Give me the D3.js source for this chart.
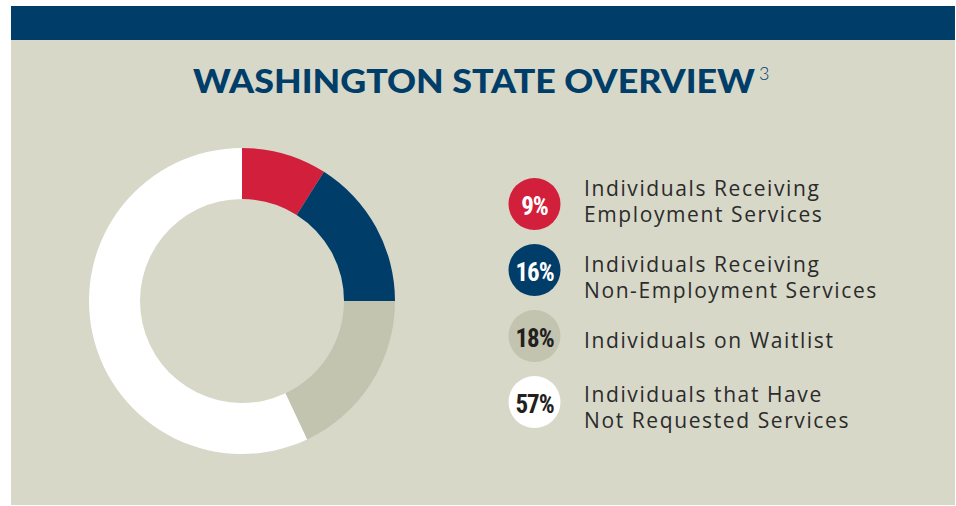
<!DOCTYPE html>
<html>
<head>
<meta charset="utf-8">
<script src="https://cdn.jsdelivr.net/npm/d3@7"></script>
<style>
  html, body { margin: 0; padding: 0; background: #ffffff; }
  svg { display: block; }
</style>
</head>
<body>
<script>
// ---- data ----
const title = "WASHINGTON STATE OVERVIEW";
const titleNote = "3";
const categories = [
  ["Individuals Receiving", "Employment Services"],
  ["Individuals Receiving", "Non-Employment Services"],
  ["Individuals on Waitlist"],
  ["Individuals that Have", "Not Requested Services"]
];
const values = [9, 16, 18, 57];
const colors = ["#d21f3c", "#003d69", "#c2c4af", "#ffffff"];
const labelColors = ["#ffffff", "#ffffff", "#231f20", "#231f20"];

// ---- layout ----
const W = 956, H = 506;
const legendTextY = [196, 272, 348, 402]; // first-line baselines of legend labels
const svg = d3.select("body").append("svg").attr("width", W).attr("height", H);

svg.append("rect").attr("x", 11).attr("y", 6).attr("width", 944).attr("height", 499).attr("fill", "#d7d8c8");
svg.append("rect").attr("x", 11).attr("y", 6).attr("width", 944).attr("height", 34).attr("fill", "#003d69");

const t = svg.append("text")
  .attr("x", 193).attr("y", 93)
  .attr("fill", "#003d69")
  .style("font-family", "Lato, 'Open Sans', sans-serif")
  .style("font-weight", 900)
  .style("font-size", "32px");
t.append("tspan").text(title).attr("textLength", 562).attr("lengthAdjust", "spacingAndGlyphs");
t.append("tspan").text(titleNote).attr("dx", 4).attr("dy", -13)
  .style("font-size", "18px").style("font-weight", 300);

// donut
const cx = 242, cy = 301, rOuter = 153, rInner = 102;
const pie = d3.pie().sort(null).value(d => d)(values);
const arc = d3.arc().innerRadius(rInner).outerRadius(rOuter);
svg.append("g").attr("transform", `translate(${cx},${cy})`)
  .selectAll("path").data(pie).join("path")
  .attr("d", arc)
  .attr("fill", (d, i) => colors[i]);

// legend
const y = d3.scalePoint().domain(d3.range(values.length)).range([204, 402]);
const lg = svg.append("g");
const rows = lg.selectAll("g").data(values).join("g")
  .attr("transform", (d, i) => `translate(0,${y(i)})`);
rows.append("circle").attr("cx", 534.5).attr("cy", 0).attr("r", 26)
  .attr("fill", (d, i) => colors[i]);
rows.append("text")
  .attr("x", 534.5).attr("y", 10.5)
  .attr("text-anchor", "middle")
  .attr("fill", (d, i) => labelColors[i])
  .style("font-family", "'Liberation Sans Narrow', 'Roboto Condensed', sans-serif")
  .style("font-weight", 700)
  .style("font-size", "25px")
  .style("letter-spacing", "-1px")
  .text(d => d + "%");

lg.selectAll("text.lab").data(values).join("text")
  .attr("class", "lab")
  .attr("fill", "#2b2b2b")
  .style("font-family", "'Open Sans', Lato, sans-serif")
  .style("font-size", "21px")
  .style("letter-spacing", "1.6px")
  .each(function (d, i) {
    const sel = d3.select(this);
    categories[i].forEach((ln, k) => {
      sel.append("tspan").attr("x", 584).attr("y", legendTextY[i] + k * 25.5).text(ln);
    });
  });
</script>
</body>
</html>
